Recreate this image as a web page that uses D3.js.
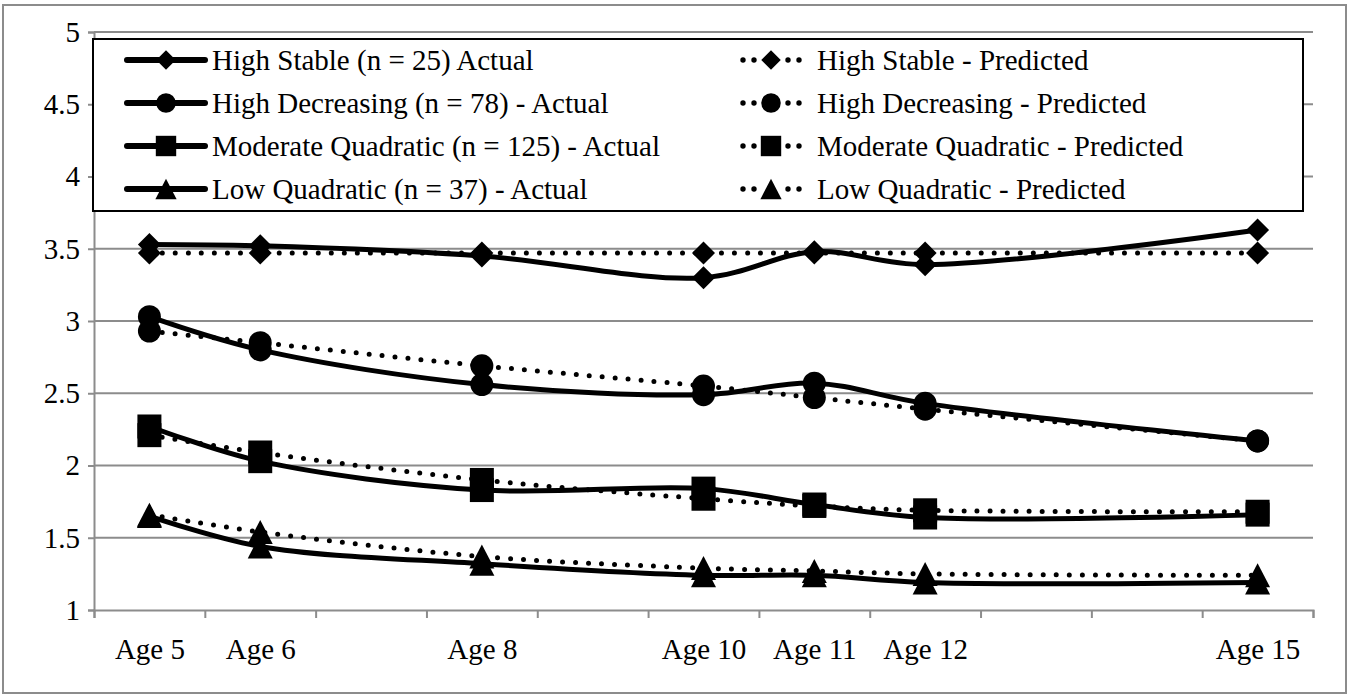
<!DOCTYPE html>
<html>
<head>
<meta charset="utf-8">
<script src="https://cdn.jsdelivr.net/npm/d3@7"></script>
<style>
  html, body { margin: 0; padding: 0; background: #fff; }
  svg { display: block; }
  text { font-family: "Liberation Serif", "Times New Roman", serif; fill: #000; }
</style>
</head>
<body>
<svg id="chart" width="1350" height="698"></svg>
<script>
// ---------- data ----------
const ages = [5, 6, 8, 10, 11, 12, 15];
const ageSlots = [5, 6, 7, 8, 9, 10, 11, 12, 13, 14, 15];
const yTicks = [1, 1.5, 2, 2.5, 3, 3.5, 4, 4.5, 5];

const highStableActual      = [3.53, 3.52, 3.45, 3.30, 3.48, 3.39, 3.63];
const highStablePredicted   = [3.47, 3.47, 3.47, 3.47, 3.47, 3.47, 3.47];
const highDecreasingActual  = [3.03, 2.80, 2.56, 2.49, 2.57, 2.43, 2.17];
const highDecreasingPredicted = [2.93, 2.85, 2.69, 2.55, 2.47, 2.39, 2.17];
const modQuadActual         = [2.27, 2.03, 1.83, 1.84, 1.73, 1.64, 1.66];
const modQuadPredicted      = [2.21, 2.09, 1.90, 1.77, 1.72, 1.69, 1.68];
const lowQuadActual         = [1.65, 1.44, 1.32, 1.24, 1.24, 1.19, 1.19];
const lowQuadPredicted      = [1.66, 1.54, 1.37, 1.29, 1.27, 1.25, 1.24];

const seriesNames = [
  "High Stable (n = 25) Actual", "High Stable - Predicted",
  "High Decreasing (n = 78) - Actual", "High Decreasing - Predicted",
  "Moderate Quadratic (n = 125) - Actual", "Moderate Quadratic - Predicted",
  "Low Quadratic (n = 37) - Actual", "Low Quadratic - Predicted"
];

// ---------- setup ----------
const svg = d3.select("#chart");
const W = 1350, H = 698;
const plot = { left: 94, right: 1313, top: 32, bottom: 610 };
const FONT = 29;
const SERIF = '"Liberation Serif", "Times New Roman", serif';

const x = d3.scaleLinear()
  .domain([d3.min(ageSlots) - 0.5, d3.max(ageSlots) + 0.5])
  .range([plot.left, plot.right]);
const y = d3.scaleLinear().domain([1, 5]).range([plot.bottom, plot.top]);

const series = [
  { name: seriesNames[0], values: highStableActual, marker: "diamond", dotted: false },
  { name: seriesNames[1], values: highStablePredicted, marker: "diamond", dotted: true },
  { name: seriesNames[2], values: highDecreasingActual, marker: "circle", dotted: false },
  { name: seriesNames[3], values: highDecreasingPredicted, marker: "circle", dotted: true },
  { name: seriesNames[4], values: modQuadActual, marker: "square", dotted: false },
  { name: seriesNames[5], values: modQuadPredicted, marker: "square", dotted: true },
  { name: seriesNames[6], values: lowQuadActual, marker: "triangle", dotted: false },
  { name: seriesNames[7], values: lowQuadPredicted, marker: "triangle", dotted: true }
];

function markerPath(type) {
  switch (type) {
    case "diamond": { const r = 11.5; return `M0,${-r}L${r},0L0,${r}L${-r},0Z`; }
    case "circle": { const r = 11.5; return `M${r},0A${r},${r} 0 1,1 ${-r},0A${r},${r} 0 1,1 ${r},0Z`; }
    case "square": { const s = 12; return `M${-s},${-s}H${s}V${s}H${-s}Z`; }
    case "triangle": { const w = 12.5, h = 12; return `M0,${-h}L${w},${h}L${-w},${h}Z`; }
  }
}

// outer border
svg.append("rect")
  .attr("x", 3).attr("y", 5).attr("width", W - 7).attr("height", H - 10)
  .attr("fill", "#fff").attr("stroke", "#8c8c8c").attr("stroke-width", 2);

// ---------- gridlines & y axis ----------
const yAxis = d3.axisLeft(y).tickValues(yTicks).tickSize(6).tickPadding(8)
  .tickFormat(d => d3.format("~g")(d));
const gy = svg.append("g").attr("transform", `translate(${plot.left},0)`).call(yAxis);
gy.attr("font-family", SERIF);
gy.select(".domain").attr("stroke", "#8c8c8c").attr("stroke-width", 2);
gy.selectAll(".tick line").attr("stroke", "#8c8c8c").attr("stroke-width", 2);
gy.selectAll(".tick text").style("font-size", FONT + "px").style("font-family", SERIF);

svg.append("g").selectAll("line").data(yTicks.filter(d => d > 1)).join("line")
  .attr("x1", plot.left).attr("x2", plot.right)
  .attr("y1", d => y(d)).attr("y2", d => y(d))
  .attr("stroke", "#8c8c8c").attr("stroke-width", 2);

// ---------- x axis ----------
const boundaries = d3.range(ageSlots.length + 1).map(i => d3.min(ageSlots) - 0.5 + i);
const gxTicks = svg.append("g").attr("transform", `translate(0,${plot.bottom})`)
  .call(d3.axisBottom(x).tickValues(boundaries).tickSize(8).tickFormat(""));
gxTicks.select(".domain").attr("stroke", "#8c8c8c").attr("stroke-width", 2);
gxTicks.selectAll(".tick line").attr("stroke", "#8c8c8c").attr("stroke-width", 2);

const gxLabels = svg.append("g").attr("transform", `translate(0,${plot.bottom})`)
  .call(d3.axisBottom(x).tickValues(ages).tickSize(0).tickPadding(28).tickFormat(d => "Age " + d));
gxLabels.attr("font-family", SERIF);
gxLabels.select(".domain").remove();
gxLabels.selectAll(".tick text").style("font-size", FONT + "px").style("font-family", SERIF);

// ---------- series ----------
const line = d3.line()
  .x((d, i) => x(ages[i]))
  .y(d => y(d))
  .curve(d3.curveCatmullRom.alpha(0.5));

const gSeries = svg.append("g");
series.forEach(s => {
  const g = gSeries.append("g");
  g.append("path")
    .attr("d", line(s.values))
    .attr("fill", "none")
    .attr("stroke", "#000")
    .attr("stroke-width", 5)
    .attr("stroke-linecap", "round")
    .attr("stroke-linejoin", "round")
    .attr("stroke-dasharray", s.dotted ? "0 13" : null);
  g.selectAll("path.m").data(s.values).join("path")
    .attr("class", "m")
    .attr("d", markerPath(s.marker))
    .attr("transform", (d, i) => `translate(${x(ages[i])},${y(d)})`)
    .attr("fill", "#000");
});

// ---------- legend ----------
const legend = svg.append("g");
legend.append("rect")
  .attr("x", 93).attr("y", 39).attr("width", 1210).attr("height", 172)
  .attr("fill", "#fff").attr("stroke", "#000").attr("stroke-width", 2);

const cols = [{ x0: 127, x1: 205 }, { x0: 732, x1: 810 }];
series.forEach((s, k) => {
  const col = k % 2, row = Math.floor(k / 2);
  const c = cols[col];
  const cy = 60 + row * 43;
  const cx = (c.x0 + c.x1) / 2;
  const g = legend.append("g");
  if (s.dotted) {
    g.selectAll("circle").data([-28, -17, 17, 28]).join("circle")
      .attr("cx", d => cx + d).attr("cy", cy).attr("r", 2.7).attr("fill", "#000");
  } else {
    g.append("line").attr("x1", c.x0).attr("x2", c.x1).attr("y1", cy).attr("y2", cy)
      .attr("stroke", "#000").attr("stroke-width", 6).attr("stroke-linecap", "round");
  }
  g.append("path").attr("d", markerPath(s.marker))
    .attr("transform", `translate(${cx},${cy}) scale(0.85)`).attr("fill", "#000");
  g.append("text").attr("x", c.x1 + 7).attr("y", cy).attr("dy", "0.35em")
    .style("font-size", FONT + "px").style("font-family", SERIF).text(s.name);
});
</script>
</body>
</html>
